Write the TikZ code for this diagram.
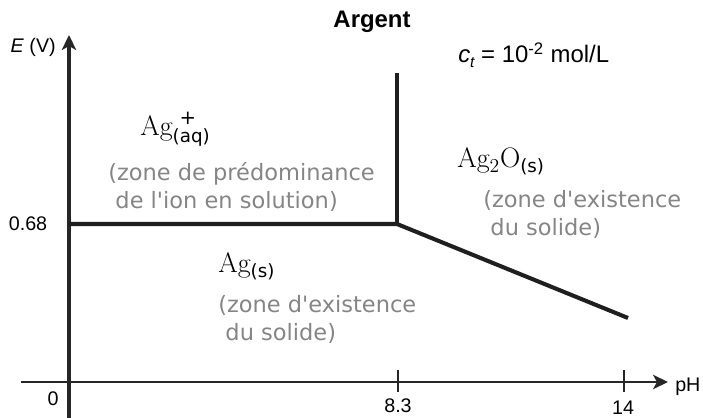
\documentclass[tikz,border=0pt]{standalone}
\usepackage{fontspec}
\newfontfamily\arialfont{Liberation Sans}
\newfontfamily\dejavufont{DejaVu Sans}
\usetikzlibrary{arrows.meta}
\newcommand{\aggstate}[1]{\mbox{\dejavufont\fontsize{13}{15}\selectfont #1}}

\begin{document}
\begin{tikzpicture}[
  x=0.025cm, y=-0.025cm,
  font=\arialfont\fontsize{14}{17}\selectfont,
  axis/.style={line width=1.2pt, color=black!85,
    -{Stealth[length=0.375cm,width=0.36cm,inset=0.1cm]}},
  tick/.style={line width=1.2pt, color=black!85},
  border/.style={line width=2.9pt, color=black!88},
  lbl/.style={inner sep=0pt, anchor=base},
  species/.style={inner sep=0pt, anchor=base west,
    font=\rmfamily\fontsize{20}{24}\selectfont},
  zone/.style={inner sep=0pt, anchor=north west, align=left,
    text=black!48, font=\dejavufont\fontsize{16}{19.8}\selectfont},
]
\useasboundingbox (0,0) rectangle (703,418);

\coordinate (ybot) at (69,418);
\coordinate (ytop) at (69,35);
\coordinate (xleft) at (21,382);
\coordinate (xright) at (668,382);
\coordinate (ymark) at (69,224);
\coordinate (triple) at (397,224);
\coordinate (vtop) at (397,73);
\coordinate (slopeend) at (628,318);
\coordinate (tickA) at (398,370);
\coordinate (tickAb) at (398,392);
\coordinate (tickB) at (624,370);
\coordinate (tickBb) at (624,392);

\draw[axis] (xleft) -- (xright);
\draw[axis, line width=2.2pt] (ybot) -- (ytop);
\draw[tick] (tickA) -- (tickAb);
\draw[tick] (tickB) -- (tickBb);

\draw[border] (ymark) -- (triple) -- (slopeend);
\draw[border] (triple) -- (vtop);

\node[lbl, font=\arialfont\bfseries\fontsize{17}{20}\selectfont] (title) at (372,28) {Argent};
\node[lbl, anchor=base west, font=\arialfont\fontsize{17}{20}\selectfont] (conc) at (458,63)
  {\textit{c}\raisebox{-0.35ex}{\fontsize{11}{13}\selectfont\itshape t} = 10\textsuperscript{-2} mol/L};
\node[lbl, anchor=base east] (elbl) at (56,53) {\textit{E} (V)};
\node[lbl] (e068) at (28,231) {0.68};
\node[lbl] (zero) at (53,406) {0};
\node[lbl] (ph83) at (398,412) {8.3};
\node[lbl] (ph14) at (623,414) {14};
\node[lbl, anchor=base west] (phlbl) at (675,391) {pH};

\node[species] (ion) at (140,136)
  {Ag\rlap{\hspace{5pt}\raisebox{8.5pt}{\dejavufont\fontsize{14}{16}\selectfont +}}\raisebox{-4.7pt}{\aggstate{(aq)}}};
\node[zone] (ionzone) at (108,162) {(zone de prédominance\\\hspace*{0.32em}de l'ion en solution)};
\node[species] (oxide) at (457,168) {$\mathrm{Ag_2O}$\raisebox{-3.5pt}{\aggstate{(s)}}};
\node[zone] (oxzone) at (483,190) {(zone d'existence\\\hspace*{0.32em}du solide)};
\node[species] (metal) at (218,273) {Ag\raisebox{-3pt}{\aggstate{(s)}}};
\node[zone] (metzone) at (218,295) {(zone d'existence\\\hspace*{0.32em}du solide)};

\end{tikzpicture}
\end{document}
